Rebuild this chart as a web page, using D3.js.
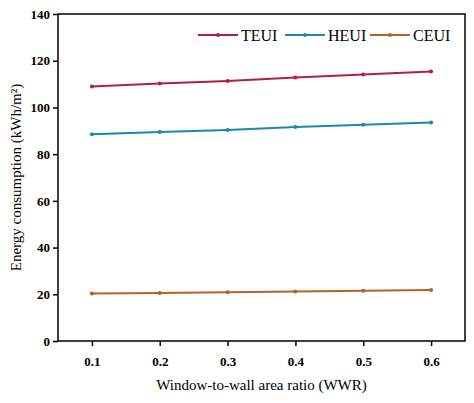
<!DOCTYPE html>
<html><head><meta charset="utf-8">
<script src="https://cdn.jsdelivr.net/npm/d3@7"></script>
<style>body{margin:0;background:#fff}text{font-family:"Liberation Serif","Times New Roman",serif}</style>
</head><body><svg id="c" width="474" height="403"></svg>
<script>
var wwr = [0.1, 0.2, 0.3, 0.4, 0.5, 0.6];
var teui = [109.0, 110.2, 111.3, 112.8, 114.1, 115.4];
var heui = [88.5, 89.5, 90.3, 91.6, 92.6, 93.6];
var ceui = [20.3, 20.6, 20.9, 21.2, 21.5, 21.8];
var seriesNames = ["TEUI", "HEUI", "CEUI"];
var seriesColors = ["#b3203c", "#1b88ad", "#b5612a"];
var yTicks = [0, 20, 40, 60, 80, 100, 120, 140];

(function() {
  var svg = d3.select("#c");
  var pl = 58, pr = 465, pt = 14, pb = 341;
  var x = d3.scaleLinear().domain([0.05, 0.65]).range([pl, pr]);
  var y = d3.scaleLinear().domain([0, 140]).range([pb, pt]);

  // frame
  svg.append("rect").attr("x", pl).attr("y", pt)
    .attr("width", pr - pl).attr("height", pb - pt)
    .attr("fill", "none").attr("stroke", "#000").attr("stroke-width", 1.5);

  var xa = svg.append("g").attr("transform", "translate(0," + pb + ")")
    .call(d3.axisBottom(x).tickValues(wwr).tickFormat(d3.format(".1f")).tickSizeOuter(0).tickSize(5));
  var ya = svg.append("g").attr("transform", "translate(" + pl + ",0)")
    .call(d3.axisLeft(y).tickValues(yTicks).tickSizeOuter(0).tickSize(5));
  [xa, ya].forEach(function(a){
    a.select(".domain").remove();
    a.selectAll("line").attr("stroke-width", 1.5);
    a.selectAll("text").attr("font-size", 13).attr("font-weight", "bold").attr("fill", "#000");
  });
  xa.selectAll("text").attr("dy", "1.3em");

  svg.append("text").attr("x", (pl + pr) / 2).attr("y", 390)
    .attr("text-anchor", "middle").attr("font-size", 15).text("Window-to-wall area ratio (WWR)");
  svg.append("text").attr("transform", "translate(16," + (pt + pb) / 2 + ") rotate(-90)")
    .attr("text-anchor", "middle").attr("font-size", 15).attr("dy", "0.35em")
    .text("Energy consumption (kWh/m²)");

  var line = d3.line().x(function(d, i){ return x(wwr[i]); }).y(function(d){ return y(d); });
  [teui, heui, ceui].forEach(function(s, k){
    svg.append("path").datum(s).attr("d", line).attr("fill", "none")
      .attr("stroke", seriesColors[k]).attr("stroke-width", 2);
    svg.selectAll(null).data(s).enter().append("circle")
      .attr("cx", function(d, i){ return x(wwr[i]); }).attr("cy", function(d){ return y(d); })
      .attr("r", 2).attr("fill", seriesColors[k]);
  });

  // legend
  var lx = [198, 285, 370];
  seriesNames.forEach(function(n, k){
    var g = svg.append("g").attr("transform", "translate(" + lx[k] + ",35)");
    g.append("line").attr("x1", 0).attr("x2", 40).attr("stroke", seriesColors[k]).attr("stroke-width", 2);
    g.append("circle").attr("cx", 20).attr("r", 2).attr("fill", seriesColors[k]);
    g.append("text").attr("x", 43).attr("dy", "0.35em").attr("font-size", 16).text(n);
  });
})();
</script></body></html>
